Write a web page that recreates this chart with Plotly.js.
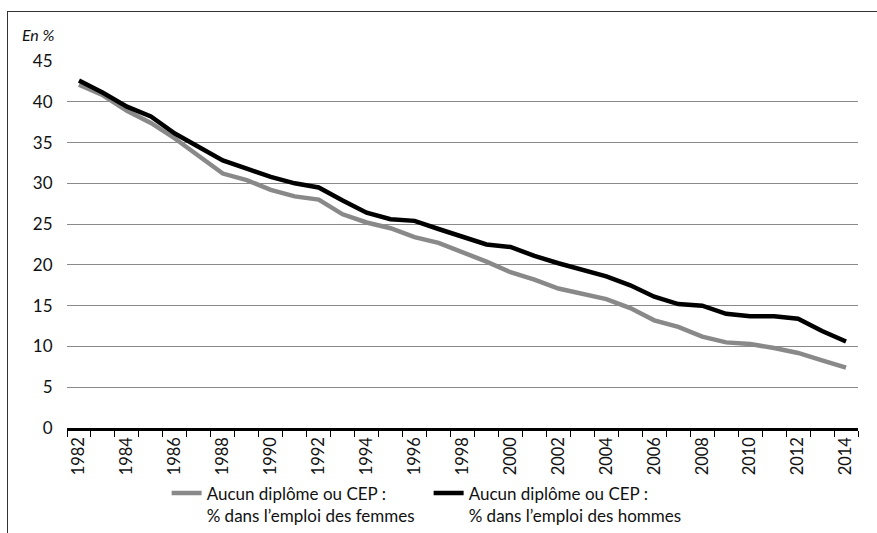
<!DOCTYPE html>
<html>
<head>
<meta charset="utf-8">
<script src="https://cdn.plot.ly/plotly-3.0.1.min.js"></script>
<style>
html,body{margin:0;padding:0;background:#fff;}
#wrap{position:relative;width:877px;height:533px;}
#chart{width:877px;height:533px;}
#frame{position:absolute;left:7px;top:11px;width:870px;height:522px;border-top:1px solid #333;border-left:1px solid #333;pointer-events:none;}
</style>
</head>
<body>
<div id="wrap"><div id="chart"></div><div id="frame"></div></div>
<script>
const years = [1982,1983,1984,1985,1986,1987,1988,1989,1990,1991,1992,1993,1994,1995,1996,1997,1998,1999,2000,2001,2002,2003,2004,2005,2006,2007,2008,2009,2010,2011,2012,2013,2014];
const femmes = [42.1,40.8,38.9,37.4,35.5,33.3,31.2,30.4,29.2,28.4,28.0,26.2,25.2,24.5,23.4,22.7,21.6,20.4,19.1,18.2,17.1,16.4,15.8,14.7,13.2,12.4,11.2,10.5,10.3,9.8,9.2,8.3,7.4];
const hommes = [42.6,41.1,39.4,38.2,36.1,34.5,32.8,31.8,30.8,30.0,29.5,27.9,26.4,25.6,25.4,24.4,23.4,22.5,22.2,21.1,20.2,19.4,18.6,17.5,16.1,15.2,15.0,14.0,13.7,13.7,13.4,11.9,10.6];
const tickYears = years.filter(y => y % 2 === 0);
const nomFemmes = "Aucun diplôme ou CEP :<br>% dans l’emploi des femmes";
const nomHommes = "Aucun diplôme ou CEP :<br>% dans l’emploi des hommes";

const font = "Lato, 'Open Sans', sans-serif";

const traces = [
  {x: years, y: femmes, type: 'scatter', mode: 'lines', name: nomFemmes,
   line: {color: '#898989', width: 4.5}},
  {x: years, y: hommes, type: 'scatter', mode: 'lines', name: nomHommes,
   line: {color: '#000000', width: 4.5}}
];

const layout = {
  width: 877, height: 533,
  margin: {l: 67, r: 19, t: 61, b: 105},
  paper_bgcolor: '#fff', plot_bgcolor: '#fff',
  font: {family: font, size: 15, color: '#111'},
  showlegend: true,
  xaxis: {
    type: 'linear',
    range: [1981.5, 2014.5],
    tickmode: 'array',
    tickvals: tickYears,
    ticktext: tickYears.map(String),
    tickangle: -90,
    ticks: '',
    showgrid: false,
    zeroline: false,
    automargin: false,
    showline: true, linecolor: '#000', linewidth: 2.5,
    tickfont: {family: font, size: 16.5, color: '#111'},
    minor: {tick0: 1981.5, dtick: 1, ticks: 'outside', ticklen: 6, tickcolor: '#000', tickwidth: 1, showgrid: false},
    fixedrange: true
  },
  yaxis: {
    range: [0, 45],
    tickmode: 'linear', tick0: 0, dtick: 5,
    ticks: 'outside', ticklen: 10, tickcolor: 'rgba(0,0,0,0)',
    showgrid: true, gridcolor: '#8a8a8a', gridwidth: 1,
    zeroline: false, showline: false,
    automargin: false,
    tickfont: {family: font, size: 17, color: '#111'},
    fixedrange: true
  },
  legend: {
    orientation: 'h',
    xref: 'container', yref: 'container',
    x: 0.19, xanchor: 'left',
    y: 0.108, yanchor: 'top',
    valign: 'top',
    entrywidth: 217, entrywidthmode: 'pixels',
    font: {family: font, size: 17, color: '#111'},
    bgcolor: 'rgba(0,0,0,0)'
  },
  annotations: [
    {text: '<i>En %</i>', xref: 'paper', yref: 'paper', x: -0.0594, y: 1.071,
     xanchor: 'left', yanchor: 'middle', showarrow: false,
     font: {family: font, size: 16, color: '#111'}}
  ]
};

Plotly.newPlot('chart', traces, layout, {displayModeBar: false, staticPlot: true});
</script>
</body>
</html>
